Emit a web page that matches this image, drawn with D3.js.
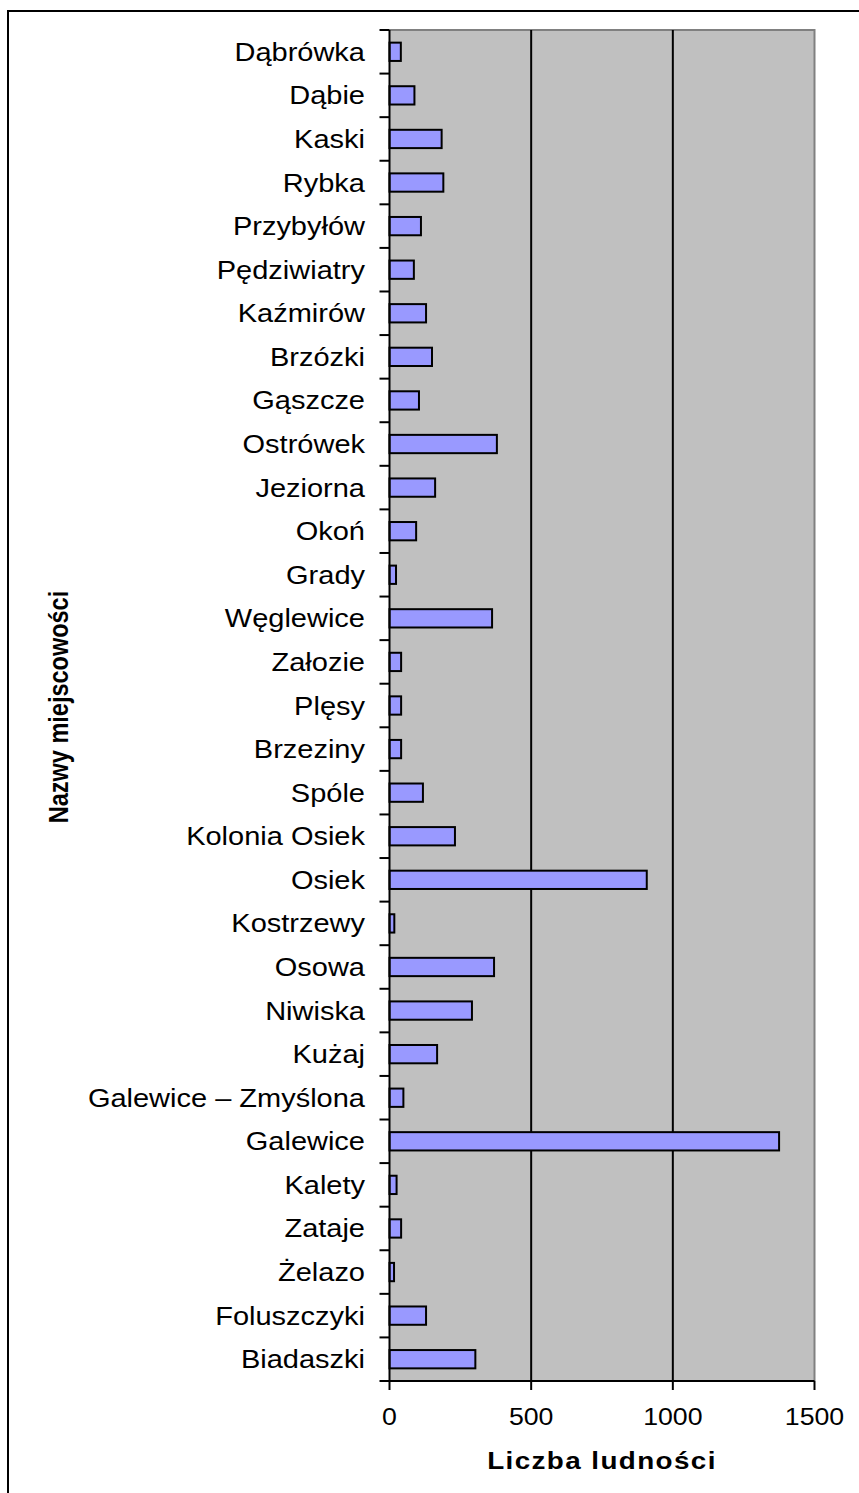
<!DOCTYPE html>
<html><head><meta charset="utf-8">
<script src="https://cdn.jsdelivr.net/npm/d3@7"></script>
<style>body{margin:0;background:#fff;} svg{display:block;}</style>
</head><body>
<svg id="c" width="859" height="1493"></svg>
<script>
const categories = ["Dąbrówka","Dąbie","Kaski","Rybka","Przybyłów","Pędziwiatry","Kaźmirów","Brzózki","Gąszcze","Ostrówek","Jeziorna","Okoń","Grady","Węglewice","Załozie","Plęsy","Brzeziny","Spóle","Kolonia Osiek","Osiek","Kostrzewy","Osowa","Niwiska","Kużaj","Galewice – Zmyślona","Galewice","Kalety","Zataje","Żelazo","Foluszczyki","Biadaszki"];
const values = [40,88,184,190,111,86,129,150,104,379,161,94,23,362,41,41,41,118,231,908,17,369,291,168,49,1375,25,41,16,129,303];
const xTicks = [0,500,1000,1500];
const xTitle = "Liczba ludności";
const yTitle = "Nazwy miejscowości";

const svg = d3.select("#c");
const L = 389.5, R = 814.5, T = 30, B = 1381;
const SX = 1.16;
const font = "Arial, 'Liberation Sans', sans-serif";

// outer border
svg.append("rect").attr("x",8).attr("y",11).attr("width",1000).attr("height",2000)
  .attr("fill","none").attr("stroke","#000").attr("stroke-width",2);

const x = d3.scaleLinear().domain([0,1500]).range([L,R]);
const y = d3.scaleBand().domain(categories).range([T,B]).paddingInner(0.58).paddingOuter(0.29);

// plot bg
svg.append("rect").attr("x",L).attr("y",T).attr("width",R-L).attr("height",B-T).attr("fill","#C0C0C0");
// plot border (top/right gray)
svg.append("path").attr("d",`M${L},${T}H${R}V${B}`).attr("fill","none").attr("stroke","#808080").attr("stroke-width",2);

// gridlines
svg.selectAll("line.grid").data(xTicks.filter(d=>d>0 && d<1500)).enter().append("line")
  .attr("x1",d=>x(d)).attr("x2",d=>x(d)).attr("y1",T).attr("y2",B)
  .attr("stroke","#000").attr("stroke-width",2);

// bars
svg.selectAll("rect.bar").data(values).enter().append("rect")
  .attr("x",x(0)).attr("y",(d,i)=>y(categories[i]))
  .attr("width",d=>x(d)-x(0)).attr("height",y.bandwidth())
  .attr("fill","#9999FF").attr("stroke","#000").attr("stroke-width",2);

// axes lines
svg.append("line").attr("x1",L).attr("x2",L).attr("y1",T).attr("y2",B+1).attr("stroke","#000").attr("stroke-width",2);
svg.append("line").attr("x1",L-1).attr("x2",R).attr("y1",B).attr("y2",B).attr("stroke","#000").attr("stroke-width",2);

// y ticks at band boundaries
const step = y.step();
const bounds = d3.range(categories.length+1).map(i=>T + i*step);
svg.selectAll("line.yt").data(bounds).enter().append("line")
  .attr("x1",L-10).attr("x2",L).attr("y1",d=>d).attr("y2",d=>d).attr("stroke","#000").attr("stroke-width",2);
// x ticks
svg.selectAll("line.xt").data(xTicks).enter().append("line")
  .attr("x1",d=>x(d)).attr("x2",d=>x(d)).attr("y1",B).attr("y2",B+9).attr("stroke","#000").attr("stroke-width",2);

// category labels
svg.selectAll("g.cl").data(categories).enter().append("g")
  .attr("transform",d=>`translate(365,${y(d)+y.bandwidth()/2}) scale(${SX},1)`)
  .append("text").attr("text-anchor","end").attr("dy","0.36em")
  .attr("font-family",font).attr("font-size",25).attr("fill","#000").text(d=>d);

// x tick labels
svg.selectAll("g.xl").data(xTicks).enter().append("g")
  .attr("transform",d=>`translate(${x(d)},1417) scale(${SX},1)`)
  .append("text").attr("text-anchor","middle").attr("dy","0.36em")
  .attr("font-family",font).attr("font-size",23).attr("fill","#000").text(d=>d);

// x title
svg.append("g").attr("transform",`translate(602,1460) scale(${SX},1)`)
  .append("text").attr("text-anchor","middle").attr("dy","0.36em")
  .attr("font-family",font).attr("font-size",24).attr("font-weight","bold").attr("letter-spacing",1.2).text(xTitle);

// y title
svg.append("g").attr("transform",`translate(58,707) scale(${SX},1) rotate(-90)`)
  .append("text").attr("text-anchor","middle").attr("dy","0.36em")
  .attr("font-family",font).attr("font-size",23.5).attr("font-weight","bold").text(yTitle);
</script>
</body></html>
